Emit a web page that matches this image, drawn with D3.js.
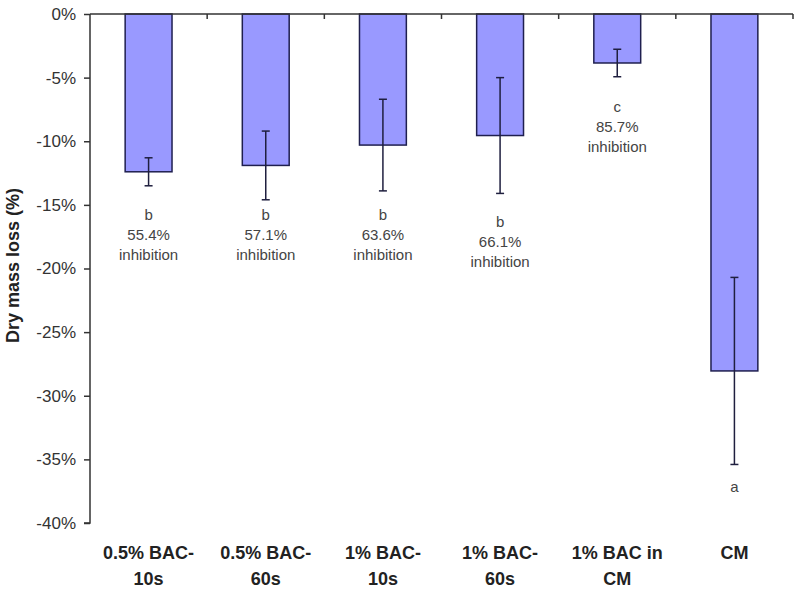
<!DOCTYPE html>
<html>
<head>
<meta charset="utf-8">
<script src="https://cdn.jsdelivr.net/npm/d3@7/dist/d3.min.js"></script>
<style>
  html, body { margin: 0; padding: 0; background: #fff; }
  svg { display: block; }
</style>
</head>
<body>
<svg id="chart" width="800" height="591"></svg>
<script>
// ---- data ----
const categories = ["0.5% BAC-10s", "0.5% BAC-60s", "1% BAC-10s", "1% BAC-60s", "1% BAC in CM", "CM"];
const categoryLines = [["0.5% BAC-", "10s"], ["0.5% BAC-", "60s"], ["1% BAC-", "10s"], ["1% BAC-", "60s"], ["1% BAC in", "CM"], ["CM"]];
const values = [-12.4, -11.9, -10.3, -9.55, -3.85, -28.05];
const errors = [1.1, 2.7, 3.6, 4.55, 1.08, 7.35];
const groupLetters = ["b", "b", "b", "b", "c", "a"];
const inhibition = ["55.4%", "57.1%", "63.6%", "66.1%", "85.7%", null];
const labelAt = [-15.8, -15.8, -15.8, -16.35, -7.3, -37.2];
const yTicks = [0, -5, -10, -15, -20, -25, -30, -35, -40];

// ---- layout ----
const svg = d3.select("#chart");
const plotLeft = 90, plotRight = 793, plotTop = 14, plotBottom = 523;

const x = d3.scaleBand().domain(categories).range([plotLeft, plotRight]).padding(0);
const y = d3.scaleLinear().domain([0, -40]).range([plotTop, plotBottom]);
const barW = x.bandwidth() * 0.4;

const axisColor = "#333";

// bars
svg.append("g").selectAll("rect").data(categories).join("rect")
  .attr("x", (d) => x(d) + x.bandwidth() / 2 - barW / 2)
  .attr("y", y(0))
  .attr("width", barW)
  .attr("height", (d, i) => y(values[i]) - y(0))
  .attr("fill", "#9999ff")
  .attr("stroke", "#1f1f4f")
  .attr("stroke-width", 1.5);

// error bars
const eg = svg.append("g").attr("stroke", "#1f1f3f").attr("stroke-width", 1.5);
categories.forEach((c, i) => {
  const cx = x(c) + x.bandwidth() / 2;
  const y1 = y(values[i] + errors[i]), y2 = y(values[i] - errors[i]);
  eg.append("line").attr("x1", cx).attr("x2", cx).attr("y1", y1).attr("y2", y2);
  eg.append("line").attr("x1", cx - 4).attr("x2", cx + 4).attr("y1", y1).attr("y2", y1);
  eg.append("line").attr("x1", cx - 4).attr("x2", cx + 4).attr("y1", y2).attr("y2", y2);
});

// y axis
const yAxis = d3.axisLeft(y).tickValues(yTicks).tickSize(6).tickPadding(8)
  .tickFormat((d) => d + "%");
const yg = svg.append("g").attr("transform", `translate(${plotLeft},0)`).call(yAxis);
yg.select(".domain").attr("stroke", axisColor).attr("stroke-width", 1.5)
  .attr("d", `M-6,${plotBottom}H0V${plotTop}`);
yg.selectAll(".tick line").attr("stroke", axisColor).attr("stroke-width", 1.5);
yg.selectAll(".tick text").attr("font-family", "Liberation Sans, Arial, sans-serif")
  .attr("font-size", 17).attr("fill", "#333");

// x axis line at 0 with ticks at band boundaries (pointing down)
const xg = svg.append("g").attr("stroke", axisColor).attr("stroke-width", 1.5);
xg.append("line").attr("x1", plotLeft).attr("x2", plotRight).attr("y1", y(0)).attr("y2", y(0));
const bounds = categories.map((c) => x(c)).concat([plotRight]);
xg.selectAll("line.t").data(bounds.slice(1)).join("line").attr("class", "t")
  .attr("x1", (d) => d).attr("x2", (d) => d).attr("y1", y(0)).attr("y2", y(0) + 5);

// category labels
const cg = svg.append("g").attr("font-family", "Liberation Sans, Arial, sans-serif")
  .attr("font-size", 18).attr("font-weight", "bold").attr("fill", "#222").attr("text-anchor", "middle");
categories.forEach((c, i) => {
  const cx = x(c) + x.bandwidth() / 2;
  const t = cg.append("text").attr("x", cx).attr("y", 559);
  categoryLines[i].forEach((ln, j) => {
    t.append("tspan").attr("x", cx).attr("dy", j === 0 ? 0 : 26).text(ln);
  });
});

// annotations
const ag = svg.append("g").attr("font-family", "Liberation Sans, Arial, sans-serif")
  .attr("font-size", 15).attr("fill", "#444").attr("text-anchor", "middle");
categories.forEach((c, i) => {
  const cx = x(c) + x.bandwidth() / 2;
  const y0 = y(labelAt[i]) + 5;
  ag.append("text").attr("x", cx).attr("y", y0).text(groupLetters[i]);
  if (inhibition[i]) {
    ag.append("text").attr("x", cx).attr("y", y0 + 20).text(inhibition[i]);
    ag.append("text").attr("x", cx).attr("y", y0 + 40).text("inhibition");
  }
});

// y title
svg.append("text")
  .attr("transform", `translate(19,${(plotTop + plotBottom) / 2 - 3}) rotate(-90)`)
  .attr("text-anchor", "middle")
  .attr("font-family", "Liberation Sans, Arial, sans-serif")
  .attr("font-size", 18).attr("font-weight", "bold").attr("fill", "#222")
  .text("Dry mass loss (%)");
</script>
</body>
</html>
